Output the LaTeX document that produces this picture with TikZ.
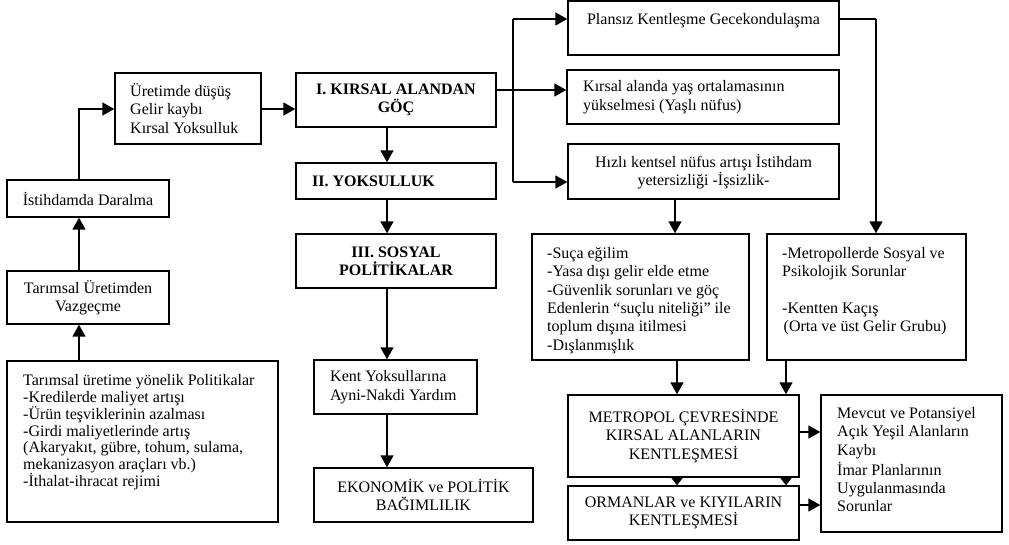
\documentclass[tikz,border=0pt]{standalone}
\usepackage{fontspec}
\setmainfont{Liberation Serif}
\usetikzlibrary{arrows.meta}
\newcommand\fs{\fontsize{16pt}{18.4pt}\selectfont}
\newcommand\fsb{\fontsize{16pt}{16.9pt}\selectfont}
\newcommand\bx[7][]{\node[box,#1,minimum width={#5-#3},minimum height={#6-#4}] (#2) at ({(#3+#5)/2},{(#4+#6)/2}) {#7};}
\begin{document}
\begin{tikzpicture}[x=1pt,y=-1pt,
  box/.style={draw,line width=1.2pt,inner sep=0pt,font=\fs,align=center},
  txt/.style={inner sep=0pt,font=\fs,align=left},
  arr/.style={line width=2.7pt,-{Triangle[length=12pt,width=12.5pt]}},
  sarr/.style={line width=2.7pt,-{Triangle[length=7.5pt,width=11pt]}},
  thinl/.style={line width=1.1pt}]
\useasboundingbox (0,0) rectangle (1009,544);

% left column
\bx{ured}{115}{73}{261}{144}{}
\node[txt,anchor=west] (uredT) at (130,108.5) {Üretimde düşüş\\Gelir kaybı\\Kırsal Yoksulluk};
\bx{istih}{7}{180}{169}{217}{İstihdamda Daralma}
\bx{tarim}{7}{271}{169}{324}{Tarımsal Üretimden\\Vazgeçme}
\bx{polit}{7}{361}{278}{522}{}
\node[txt,font=\fsb,anchor=north west] (politT) at (23,374) {Tarımsal üretime yönelik Politikalar\\-Kredilerde maliyet artışı\\-Ürün teşviklerinin azalması\\-Girdi maliyetlerinde artış\\(Akaryakıt, gübre, tohum, sulama,\\mekanizasyon araçları vb.)\\-İthalat-ihracat rejimi};

% middle column
\bx[font=\fs\bfseries]{goc}{296}{73}{496}{127}{I. KIRSAL ALANDAN\\GÖÇ}
\bx{yoks}{296}{163}{496}{199}{}
\node[txt,font=\fs\bfseries,anchor=west] (yoksT) at (312,181) {II. YOKSULLUK};
\bx[font=\fs\bfseries]{sosyal}{296}{234}{496}{288}{III. SOSYAL\\POLİTİKALAR}
\bx{kent}{314}{360}{477}{414}{}
\node[txt,anchor=west] (kentT) at (330,387) {Kent Yoksullarına\\Ayni-Nakdi Yardım};
\bx{eko}{314}{468}{533}{522}{EKONOMİK ve POLİTİK\\BAĞIMLILIK}

% right column
\bx{plan}{568}{1}{839}{55}{}
\node[txt,anchor=center] (planT) at (703.5,21) {Plansız Kentleşme Gecekondulaşma};
\bx{yas}{567}{70}{839}{124}{}
\node[txt,anchor=west] (yasT) at (583,97) {Kırsal alanda yaş ortalamasının\\yükselmesi (Yaşlı nüfus)};
\bx{hizli}{568}{144}{839}{199}{Hızlı kentsel nüfus artışı İstihdam\\yetersizliği -İşsizlik-}
\bx{suca}{532}{234}{749}{360}{}
\node[txt,anchor=north west] (sucaT) at (547,247) {-Suça eğilim\\-Yasa dışı gelir elde etme\\-Güvenlik sorunları ve göç\\Edenlerin “suçlu niteliği” ile\\toplum dışına itilmesi\\-Dışlanmışlık};
\bx{metro}{767}{234}{966}{360}{}
\node[txt,anchor=north west] (metroT) at (782,247) {-Metropollerde Sosyal ve\\Psikolojik Sorunlar\\[18.4pt]-Kentten Kaçış\\\hspace*{1.5pt}(Orta ve üst Gelir Grubu)};
\bx{metrop}{568}{395}{799}{477}{METROPOL ÇEVRESİNDE\\KIRSAL ALANLARIN\\KENTLEŞMESİ}
\bx{orman}{568}{486}{799}{540}{ORMANLAR ve KIYILARIN\\KENTLEŞMESİ}
\bx{mevcut}{821}{395}{1002}{532}{}
\node[txt,anchor=north west] (mevcutT) at (837,407) {Mevcut ve Potansiyel\\Açık Yeşil Alanların\\Kaybı\\[1.5pt]İmar Planlarının\\Uygulanmasında\\Sorunlar};

% helper coordinates
\coordinate (c1) at (79,109);
\coordinate (sp) at (387,0);
\coordinate (br) at (513,90);
\coordinate (brT) at (513,19);
\coordinate (brB) at (513,182);
\coordinate (pr) at (876,19);
\coordinate (hs) at (675,0);
\coordinate (la) at (677,0);
\coordinate (ra) at (786,0);
\coordinate (m1) at (0,432);
\coordinate (m2) at (0,505);

% left connectors
\draw[arr] (c1 |- polit.north) -- (c1 |- tarim.south);
\draw[arr] (c1 |- tarim.north) -- (c1 |- istih.south);
\draw[thinl] (c1 |- istih.north) -- (c1);
\draw[arr] ([xshift=-1pt]c1) -- (c1 -| ured.west);
\draw[arr] (ured.east |- c1) -- (goc.west |- c1);

% middle spine
\draw[arr] (sp |- goc.south) -- (sp |- yoks.north);
\draw[arr] (sp |- yoks.south) -- (sp |- sosyal.north);
\draw[arr] (sp |- sosyal.south) -- (sp |- kent.north);
\draw[arr] (sp |- kent.south) -- (sp |- eko.north);

% branch
\draw[thinl] (goc.east |- br) -- (br);
\draw[thinl] (brT) -- (brB);
\draw[arr] ([xshift=-0.5pt]brT) -- (brT -| plan.west);
\draw[arr] (br) -- (br -| yas.west);
\draw[arr] ([xshift=-0.5pt]brB) -- (brB -| hizli.west);

% right connectors
\draw[thinl] (plan.east |- pr) -- (pr);
\draw[arr] ([yshift=0.5pt]pr) -- (pr |- metro.north);
\draw[arr] (hs |- hizli.south) -- (hs |- suca.north);
\draw[arr] (la |- suca.south) -- (la |- metrop.north);
\draw[arr] (ra |- metro.south) -- (ra |- metrop.north);
\draw[sarr] (la |- metrop.south) -- (la |- orman.north);
\draw[sarr] (ra |- metrop.south) -- (ra |- orman.north);
\draw[arr] (metrop.east |- m1) -- (mevcut.west |- m1);
\draw[arr] (orman.east |- m2) -- (mevcut.west |- m2);
\end{tikzpicture}
\end{document}
